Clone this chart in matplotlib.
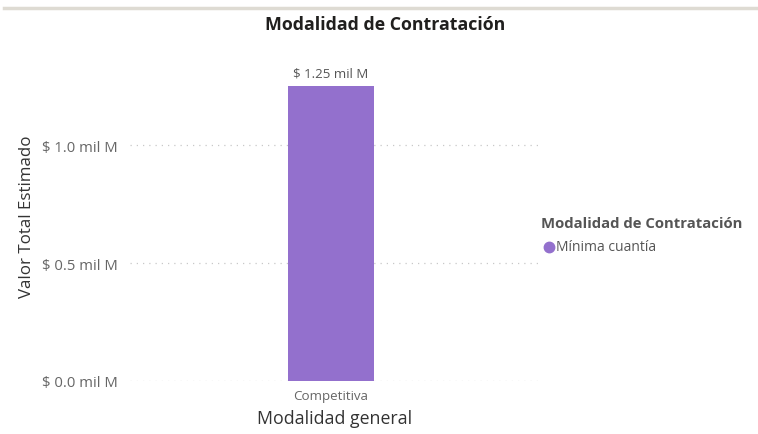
import matplotlib.pyplot as plt
from matplotlib.lines import Line2D

plt.rcParams['font.family'] = ['Open Sans', 'DejaVu Sans']

categorias = ['Competitiva']
valores = [1.25]  # miles de millones
serie = 'Mínima cuantía'
ticks_y = [0.0, 0.5, 1.0]

color_barra = '#9370cd'

fig = plt.figure(figsize=(7.58, 4.35), dpi=100)
ax = fig.add_axes([130 / 758, 1 - 382 / 435, 410 / 758, (382 - 52) / 435])

x = range(len(categorias))
bars = ax.bar(x, valores, width=0.21, color=color_barra, label=serie)

for b, v in zip(bars, valores):
    ax.annotate(f'$ {v:.2f} mil M', xy=(b.get_x() + b.get_width() / 2, v),
                xytext=(0, 5), textcoords='offset points', ha='center', va='bottom',
                fontsize=9.5, color='#555555')

ax.set_xlim(-0.49, 0.51)
ax.set_ylim(0, 1.4)
ax.set_yticks(ticks_y)
ax.set_yticklabels([f'$ {t:.1f} mil M' for t in ticks_y])
ax.set_xticks(list(x))
ax.set_xticklabels(categorias)

ax.grid(axis='y', linestyle=(0, (1, 4)), color='#c8c8c8', linewidth=0.9)
ax.set_axisbelow(True)
for s in ax.spines.values():
    s.set_visible(False)
ax.tick_params(axis='y', length=0, pad=9, labelsize=10.7, labelcolor='#666666')
ax.tick_params(axis='x', length=0, pad=6, labelsize=9.6, labelcolor='#666666')

ax.set_ylabel('Valor Total Estimado', fontsize=12.2, color='#333333', labelpad=5)
ax.set_xlabel('Modalidad general', fontsize=12.8, color='#333333', labelpad=5)

fig.text(385 / 758, 1 - 25 / 435, 'Modalidad de Contratación', ha='center', va='center',
         fontsize=12.8, fontweight='bold', color='#201f1e')

# linea superior
fig.add_artist(Line2D([4 / 758, 1.0], [1 - 9 / 435, 1 - 9 / 435], color='#dedbd3',
                      linewidth=2.5, transform=fig.transFigure))

# leyenda
fig.text(541 / 758, 1 - 224 / 435, 'Modalidad de Contratación', ha='left', va='center',
         fontsize=10.7, fontweight='bold', color='#555555')
fig.add_artist(Line2D([549 / 758], [1 - 248 / 435], marker='o', markersize=7.5,
                      color=color_barra, linestyle='none', transform=fig.transFigure))
fig.text(556 / 758, 1 - 248 / 435, serie, ha='left', va='center',
         fontsize=10, color='#555555')

fig.savefig('out.png', dpi=100)
